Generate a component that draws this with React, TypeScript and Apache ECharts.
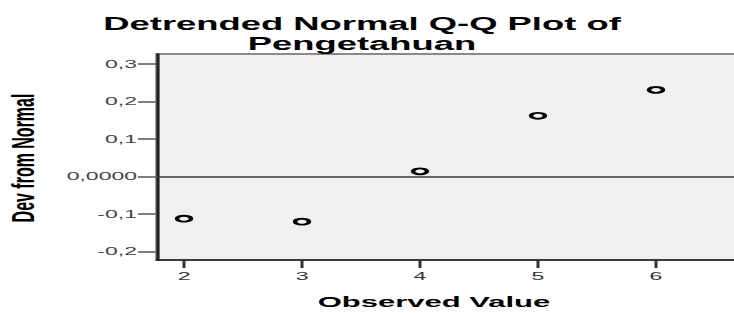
import React, { useEffect, useRef } from "react";
import * as echarts from "echarts";

const xValues = [2, 3, 4, 5, 6];
const devValues = [-0.112, -0.12, 0.014, 0.162, 0.231];
const xTickValues = [2, 3, 4, 5, 6];
const xTickLabels = ["2", "3", "4", "5", "6"];
const yTickValues = [-0.2, -0.1, 0, 0.1, 0.2, 0.3];
const yTickLabels = ["-0,2", "-0,1", "0,0000", "0,1", "0,2", "0,3"];
const titleLines = ["Detrended Normal Q-Q Plot of", "Pengetahuan"];
const xAxisTitle = "Observed Value";
const yAxisTitle = "Dev from Normal";

const FONT = '"Liberation Sans", Arial, sans-serif';
const STRETCH = 2;

function labelFor(values: number[], labels: string[], v: number) {
  const i = values.findIndex((t) => Math.abs(t - v) < 1e-9);
  return i >= 0 ? labels[i] : "";
}

export default function App() {
  const ref = useRef<HTMLDivElement>(null);
  useEffect(() => {
    if (!ref.current) return;
    const chart = echarts.init(ref.current, null, { renderer: "svg" });
    const points = xValues.map((x, i) => [x, devValues[i]]);
    chart.setOption({
      animation: false,
      grid: {
        left: 78.5,
        top: 54,
        right: 0,
        bottom: 53,
        show: true,
        backgroundColor: "#f0f0f0",
        borderColor: "#8a8a8a",
        borderWidth: 1.8,
      },
      xAxis: {
        type: "value",
        min: 1.771,
        max: 6.746,
        axisLine: { show: true, onZero: false, lineStyle: { color: "#222", width: 1.6 } },
        axisTick: { show: true, length: 8, customValues: xTickValues, lineStyle: { color: "#333", width: 1.5 } },
        axisLabel: {
          customValues: xTickValues,
          margin: 10,
          fontSize: 11.5,
          fontFamily: FONT,
          color: "#333",
          formatter: (v: number) => labelFor(xTickValues, xTickLabels, v),
        },
        splitLine: { show: false },
      },
      yAxis: {
        type: "value",
        min: -0.2221,
        max: 0.3266,
        axisLine: { show: true, onZero: false, lineStyle: { color: "#222", width: 1.6 } },
        axisTick: { show: true, length: 9.5, customValues: yTickValues, lineStyle: { color: "#555", width: 1.5 } },
        axisLabel: {
          customValues: yTickValues,
          margin: 10,
          fontSize: 11.5,
          fontFamily: FONT,
          color: "#444",
          formatter: (v: number) => labelFor(yTickValues, yTickLabels, v),
        },
        splitLine: { show: false },
      },
      series: [
        {
          type: "scatter",
          data: points,
          symbol: "circle",
          symbolSize: [7, 5.8],
          itemStyle: { color: "#f0f0f0", borderColor: "#000", borderWidth: 2, opacity: 1 },
          markLine: {
            silent: true,
            symbol: "none",
            label: { show: false },
            lineStyle: { color: "#3a3a3a", width: 1.5, type: "solid" },
            data: [{ yAxis: 0 }],
          },
          z: 3,
        },
      ],
      graphic: [
        {
          type: "text",
          x: 181,
          y: 24,
          style: {
            text: titleLines[0],
            fontSize: 18.2,
            fontWeight: "bold",
            fontFamily: FONT,
            fill: "#000",
            align: "center",
            verticalAlign: "middle",
          },
        },
        {
          type: "text",
          x: 181,
          y: 44,
          style: {
            text: titleLines[1],
            fontSize: 18.2,
            fontWeight: "bold",
            fontFamily: FONT,
            fill: "#000",
            align: "center",
            verticalAlign: "middle",
          },
        },
        {
          type: "text",
          x: 217,
          y: 302,
          style: {
            text: xAxisTitle,
            fontSize: 15.5,
            fontWeight: "bold",
            fontFamily: FONT,
            fill: "#000",
            align: "center",
            verticalAlign: "middle",
          },
        },
        {
          type: "text",
          x: 11.5,
          y: 158,
          rotation: Math.PI / 2,
          style: {
            text: yAxisTitle,
            fontSize: 16,
            fontWeight: "bold",
            fontFamily: FONT,
            fill: "#000",
            align: "center",
            verticalAlign: "middle",
          },
        },
      ],
    });
    return () => chart.dispose();
  }, []);
  return (
    <div
      ref={ref}
      style={{
        position: "fixed",
        left: 0,
        top: 0,
        width: 372,
        height: 313,
        transform: `scaleX(${STRETCH})`,
        transformOrigin: "0 0",
        background: "#fff",
      }}
    />
  );
}
